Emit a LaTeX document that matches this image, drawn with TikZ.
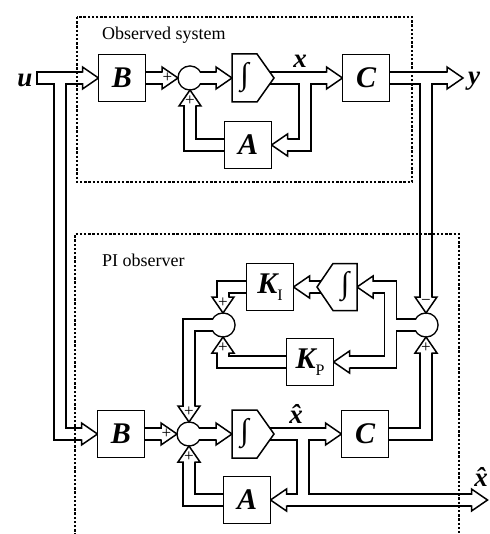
\documentclass[tikz,border=0pt]{standalone}
\usepackage{fontspec}
\setmainfont{Liberation Serif}
\usetikzlibrary{calc}
\pgfdeclarelayer{bgA}\pgfdeclarelayer{bgB}\pgfdeclarelayer{bgC}\pgfdeclarelayer{bgD}
\pgfsetlayers{bgA,bgB,bgC,bgD,main}
\newcommand\bl{\fontsize{27}{27}\selectfont\bfseries\itshape}
\newcommand\bb{\fontsize{30}{30}\selectfont\bfseries\itshape}
\newcommand\shaft[1]{%
 \begin{pgfonlayer}{bgA}\draw[line width=13.5pt,line join=miter] #1;\end{pgfonlayer}%
 \begin{pgfonlayer}{bgB}\draw[white,line width=10.5pt,line join=miter] #1;\end{pgfonlayer}}
\newcommand\ahead[4]{%
 \begin{pgfonlayer}{bgC}
 \begin{scope}[shift={#1},rotate=#2]
 \fill[white] (0,0)--(-16,11)--(-16,-11)--cycle;
 \draw[line width=1.5pt,line join=miter] (-16,5.25)--(-16,11)--(0,0)--(-16,-11)--(-16,-5.25);
 \node[font=\fontsize{17}{17}\selectfont,inner sep=0] (#4) at (-10.5,0) {#3};
 \end{scope}
 \end{pgfonlayer}}
\newcommand\sumnet[1]{%
 \begin{pgfonlayer}{bgA}\fill (#1) circle[radius=12.75pt];\end{pgfonlayer}%
 \begin{pgfonlayer}{bgB}\fill[white] (#1) circle[radius=11.25pt];\end{pgfonlayer}}
\begin{document}
\begin{tikzpicture}[x=1pt,y=-1pt,
  blk/.style={draw,line width=1.5pt,fill=white,minimum width=47pt,minimum height=47pt,inner sep=0,outer sep=0,font=\bb},
  sumn/.style={circle,minimum size=24pt,inner sep=0,outer sep=0},
  intn/.style={rectangle,minimum width=25pt,minimum height=48pt,inner sep=0,outer sep=0},
  intx/.style={font=\fontsize{31}{31}\selectfont,inner sep=0},
  lbl/.style={font=\bl,inner sep=0},
  ttl/.style={font=\fontsize{18}{18}\selectfont,inner sep=0,anchor=base west},
  dotbox/.style={line width=1.2pt,dash pattern=on 2.4pt off 1.8pt}]
\useasboundingbox (0,0) rectangle (489,534);
% ---- nodes
\node[blk] (B1) at (122,78) {B};
\node[sumn] (s1) at (190,78) {};
\node[intn] (I1) at (244.5,78) {};
\node[blk] (C1) at (366,78) {C};
\node[blk] (A1) at (248,145) {A};
\node[blk] (B2) at (121,434) {B};
\node[sumn] (s2) at (189,434) {};
\node[intn] (I2) at (244.5,434) {};
\node[blk] (C2) at (365,434) {C};
\node[blk] (A2) at (247,500) {A};
\node[blk] (KI) at (270,287) {K\raisebox{-7pt}{\normalfont\fontsize{16}{16}\selectfont I}};
\node[blk] (KP) at (310,362) {K\raisebox{-7pt}{\normalfont\fontsize{16}{16}\selectfont P}};
\node[intn,minimum width=24pt,minimum height=47pt] (IP) at (345,287) {};
\node[sumn] (sL) at (223,325) {};
\node[sumn] (sR) at (426,325) {};
% integrator outlines
\begin{pgfonlayer}{bgD}
\draw[line width=1.5pt,fill=white,line join=miter] (I1.north west)--(I1.north east)--($(I1.east)+(17,0)$)--(I1.south east)--(I1.south west)--cycle;
\draw[line width=1.5pt,fill=white,line join=miter] (I2.north west)--(I2.north east)--($(I2.east)+(17,0)$)--(I2.south east)--(I2.south west)--cycle;
\draw[line width=1.5pt,fill=white,line join=miter] (IP.north east)--(IP.north west)--($(IP.west)+(-16,0)$)--(IP.south west)--(IP.south east)--cycle;
\end{pgfonlayer}
\node[intx] (I1t) at (I1) {∫};
\node[intx] (I2t) at (I2) {∫};
\node[intx] (IPt) at (IP) {∫};
% labels
\node[lbl] (ul) at (25,80) {u};
\node[lbl] (xl) at (300,61) {x};
\node[lbl] (yl) at (474,81) {y};
\node[lbl] (xhl) at (296,414) {\^{x}};
\node[lbl] (xhr) at (481,477) {\^{x}};
\node[ttl] (t1) at (102,40) {Observed system};
\node[ttl] (t2) at (102,266) {PI observer};
% coordinates
\coordinate (u0) at (36,78);
\coordinate (ub) at (60,78);
\coordinate (xb) at (305,78);
\coordinate (yb) at (426,78);
\coordinate (yend) at (463,78);
\coordinate (rs) at (390.5,325);
\coordinate (xhb) at (303,434);
\coordinate (xhe) at (487.5,500);
% ---- summing junction bodies
\sumnet{s1}\sumnet{s2}\sumnet{sL}\sumnet{sR}
% ---- observed system
\shaft{(u0) -- ($(B1.west)+(-16,0)$)}
\ahead{(B1.west)}{0}{}{h1}
\begin{pgfonlayer}{bgC}\draw[line width=1.5pt] ($(u0)+(0.75,-6.75)$) -- ($(u0)+(0.75,6.75)$);\end{pgfonlayer}
\shaft{(B1.east) -- ($(s1.west)+(-16,0)$)}
\ahead{(s1.west)}{0}{+}{h2}
\shaft{(s1.center) -- ($(I1.west)+(-16,0)$)}
\ahead{(I1.west)}{0}{}{h3}
\shaft{(I1.center) -- ($(C1.west)+(-16,0)$)}
\ahead{(C1.west)}{0}{}{h4}
\shaft{(xb) -- (xb |- A1.east) -- ($(A1.east)+(16,0)$)}
\ahead{(A1.east)}{180}{}{h5}
\shaft{(A1.west) -- (s1 |- A1.west) -- ($(s1.south)+(0,16)$)}
\ahead{(s1.south)}{90}{+}{h6}
\shaft{(C1.east) -- ($(yend)+(-16,0)$)}
\ahead{(yend)}{0}{}{h7}
% ---- connections to observer
\shaft{(yb) -- ($(sR.north)+(0,-16)$)}
\ahead{(sR.north)}{-90}{−}{h8}
\shaft{(ub) -- (ub |- B2.west) -- ($(B2.west)+(-16,0)$)}
\ahead{(B2.west)}{0}{}{h9}
% ---- observer
\shaft{(B2.east) -- ($(s2.west)+(-16,0)$)}
\ahead{(s2.west)}{0}{+}{h10}
\shaft{(s2.center) -- ($(I2.west)+(-16,0)$)}
\ahead{(I2.west)}{0}{}{h11}
\shaft{(I2.center) -- ($(C2.west)+(-16,0)$)}
\ahead{(C2.west)}{0}{}{h12}
\shaft{(xhb) -- (xhb |- A2.east)}
\shaft{($(A2.east)+(16,0)$) -- ($(xhe)+(-16,0)$)}
\ahead{(A2.east)}{180}{}{h13}
\ahead{(xhe)}{0}{}{h14}
\shaft{(A2.west) -- (s2 |- A2.west) -- ($(s2.south)+(0,16)$)}
\ahead{(s2.south)}{90}{+}{h15}
\shaft{(C2.east) -- (sR |- C2.east) -- ($(sR.south)+(0,16)$)}
\ahead{(sR.south)}{90}{+}{h16}
\shaft{(sR.center) -- (rs)}
\shaft{(rs) -- (rs |- IP.east) -- ($(IP.east)+(16,0)$)}
\ahead{(IP.east)}{180}{}{h17}
\shaft{(rs) -- (rs |- KP.east) -- ($(KP.east)+(16,0)$)}
\ahead{(KP.east)}{180}{}{h18}
\shaft{(IP.center) -- ($(KI.east)+(16,0)$)}
\ahead{(KI.east)}{180}{}{h19}
\shaft{(KI.west) -- (sL |- KI.west) -- ($(sL.north)+(0,-16)$)}
\ahead{(sL.north)}{-90}{+}{h20}
\shaft{(KP.west) -- (sL |- KP.west) -- ($(sL.south)+(0,16)$)}
\ahead{(sL.south)}{90}{+}{h21}
\shaft{(sL.center) -- (s2 |- sL.center) -- ($(s2.north)+(0,-16)$)}
\ahead{(s2.north)}{-90}{+}{h22}
% ---- dotted frames
\draw[dotbox] (77,17) rectangle (412,182);
\draw[dotbox] (75,540) -- (75,234) -- (459,234) -- (459,540);
\end{tikzpicture}
\end{document}
